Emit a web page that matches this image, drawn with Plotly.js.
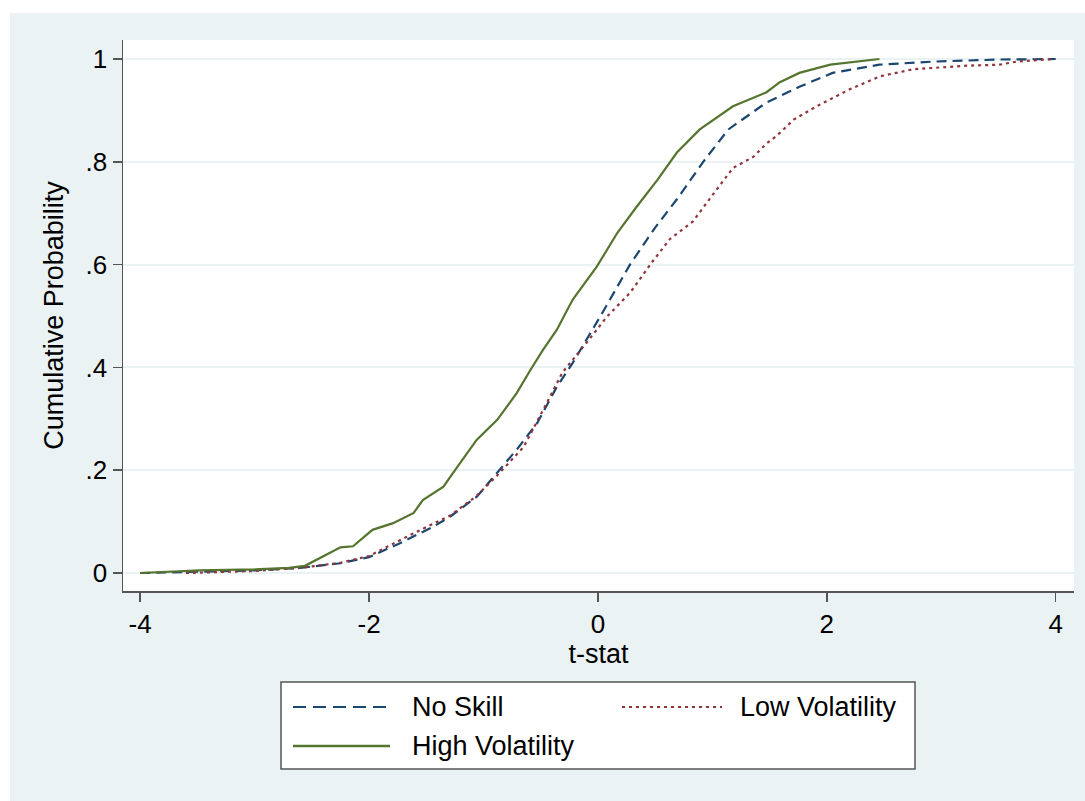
<!DOCTYPE html>
<html>
<head>
<meta charset="utf-8">
<script src="https://cdn.plot.ly/plotly-3.0.1.min.js"></script>
<style>
  html, body { margin: 0; padding: 0; background: #ffffff; }
  #chart { position: absolute; left: 10px; top: 13px; width: 1075px; height: 788px; }
</style>
</head>
<body>
<div id="chart"></div>
<script>
// Series names
const seriesNames = ["No Skill", "Low Volatility", "High Volatility"];

// No Skill (t-stat, cumulative probability)
const noSkillX = [-4.0, -3.5, -3.0, -2.6, -2.25, -2.0, -1.73, -1.44, -1.29, -1.06, -0.88, -0.71, -0.53, -0.36, -0.22, 0.02, 0.28, 0.5, 0.7, 0.92, 1.14, 1.47, 1.76, 2.05, 2.46, 2.93, 3.51, 4.0];
const noSkillY = [0.0, 0.002, 0.005, 0.01, 0.019, 0.031, 0.058, 0.09, 0.11, 0.148, 0.195, 0.24, 0.292, 0.362, 0.409, 0.499, 0.6, 0.672, 0.73, 0.8, 0.863, 0.915, 0.946, 0.973, 0.989, 0.995, 0.999, 1.0];

// Low Volatility
const lowVolX = [-3.6, -3.0, -2.6, -2.25, -2.0, -1.64, -1.29, -1.06, -0.88, -0.75, -0.65, -0.51, -0.31, -0.1, 0.08, 0.28, 0.48, 0.63, 0.83, 1.0, 1.18, 1.36, 1.47, 1.56, 1.71, 1.91, 2.2, 2.46, 2.75, 3.22, 3.51, 3.66, 3.97];
const lowVolY = [0.0, 0.004, 0.01, 0.02, 0.033, 0.074, 0.112, 0.15, 0.19, 0.22, 0.245, 0.304, 0.39, 0.448, 0.499, 0.545, 0.607, 0.65, 0.684, 0.735, 0.788, 0.81, 0.835, 0.85, 0.882, 0.908, 0.941, 0.966, 0.98, 0.987, 0.989, 0.995, 1.0];

// High Volatility
const highVolX = [-4.0, -3.48, -3.0, -2.7, -2.56, -2.4, -2.25, -2.14, -1.97, -1.79, -1.61, -1.53, -1.35, -1.23, -1.06, -0.88, -0.71, -0.59, -0.48, -0.36, -0.22, -0.01, 0.17, 0.34, 0.52, 0.69, 0.89, 1.18, 1.47, 1.59, 1.76, 2.03, 2.46];
const highVolY = [0.0, 0.005, 0.007, 0.01, 0.014, 0.033, 0.05, 0.052, 0.084, 0.097, 0.117, 0.142, 0.168, 0.206, 0.259, 0.298, 0.35, 0.395, 0.434, 0.473, 0.532, 0.596, 0.662, 0.713, 0.765, 0.818, 0.863, 0.908, 0.935, 0.955, 0.973, 0.989, 1.0];

// Axis ticks
const xTickVals = [-4, -2, 0, 2, 4];
const xTickText = ["-4", "-2", "0", "2", "4"];
const yTickVals = [0, 0.2, 0.4, 0.6, 0.8, 1];
const yTickText = ["0", ".2", ".4", ".6", ".8", "1"];

const FONT = "Liberation Sans, Arial, sans-serif";
const W = 1075, H = 788;
const M = { l: 113, r: 11, t: 27, b: 210 };
const PW = W - M.l - M.r, PH = H - M.t - M.b;
// pixel (within figure) -> paper coordinate helpers
const px = v => (v - M.l) / PW;
const py = v => (H - M.b - v) / PH;

const styles = [
  { color: "#1A476F", width: 2.2, dash: "10px,6px" },
  { color: "#90353B", width: 2.2, dash: "3px,4px" },
  { color: "#55752F", width: 2.2, dash: "solid" }
];
const legendStyles = [
  { color: "#1A476F", width: 2, dash: "13px,7px" },
  { color: "#90353B", width: 2, dash: "3px,4px" },
  { color: "#55752F", width: 2.5, dash: "solid" }
];
const seriesX = [noSkillX, lowVolX, highVolX];
const seriesY = [noSkillY, lowVolY, highVolY];

const traces = seriesNames.map((n, i) => ({
  x: seriesX[i], y: seriesY[i], name: n, type: "scatter", mode: "lines",
  line: styles[i], showlegend: false
}));

// Manual legend box (Stata-style, two columns)
const legendSlots = [
  { lx0: 283, lx1: 380, tx: 400, y: 694 },
  { lx0: 612, lx1: 712, tx: 728, y: 694 },
  { lx0: 283, lx1: 380, tx: 400, y: 733 }
];
const shapes = [
  { type: "rect", xref: "paper", yref: "paper", x0: px(271), x1: px(905), y0: py(669), y1: py(756),
    fillcolor: "#ffffff", line: { color: "#555555", width: 1.5 }, layer: "above" }
];
const annotations = [];
seriesNames.forEach((n, i) => {
  const s = legendSlots[i];
  shapes.push({ type: "line", xref: "paper", yref: "paper", x0: px(s.lx0), x1: px(s.lx1), y0: py(s.y), y1: py(s.y),
    line: legendStyles[i], layer: "above" });
  annotations.push({ xref: "paper", yref: "paper", x: px(s.tx), y: py(s.y), xanchor: "left", yanchor: "middle",
    text: n, showarrow: false, font: { family: FONT, size: 27, color: "#000000" } });
});

const layout = {
  width: W, height: H,
  paper_bgcolor: "#EAF2F3",
  plot_bgcolor: "#ffffff",
  margin: M,
  font: { family: FONT, size: 26, color: "#000000" },
  showlegend: false,
  shapes: shapes,
  annotations: annotations,
  xaxis: {
    range: [-4.15, 4.16],
    tickmode: "array", tickvals: xTickVals, ticktext: xTickText,
    ticks: "outside", ticklen: 9, tickwidth: 1.5, tickcolor: "#555555",
    showline: true, linecolor: "#555555", linewidth: 1.5,
    showgrid: false, zeroline: false,
    tickfont: { family: FONT, size: 26, color: "#000000" },
    title: { text: "t-stat", font: { family: FONT, size: 27, color: "#000000" }, standoff: 3 }
  },
  yaxis: {
    range: [-0.035, 1.037],
    tickmode: "array", tickvals: yTickVals, ticktext: yTickText,
    ticks: "outside", ticklen: 9, tickwidth: 1.5, tickcolor: "#555555",
    showline: true, linecolor: "#555555", linewidth: 1.5,
    showgrid: true, gridcolor: "#EAF2F3", gridwidth: 2,
    zeroline: false,
    tickfont: { family: FONT, size: 26, color: "#000000" },
    title: { text: "Cumulative Probability", font: { family: FONT, size: 27, color: "#000000" }, standoff: 14 }
  }
};

Plotly.newPlot("chart", traces, layout, { staticPlot: true, displayModeBar: false });
</script>
</body>
</html>
